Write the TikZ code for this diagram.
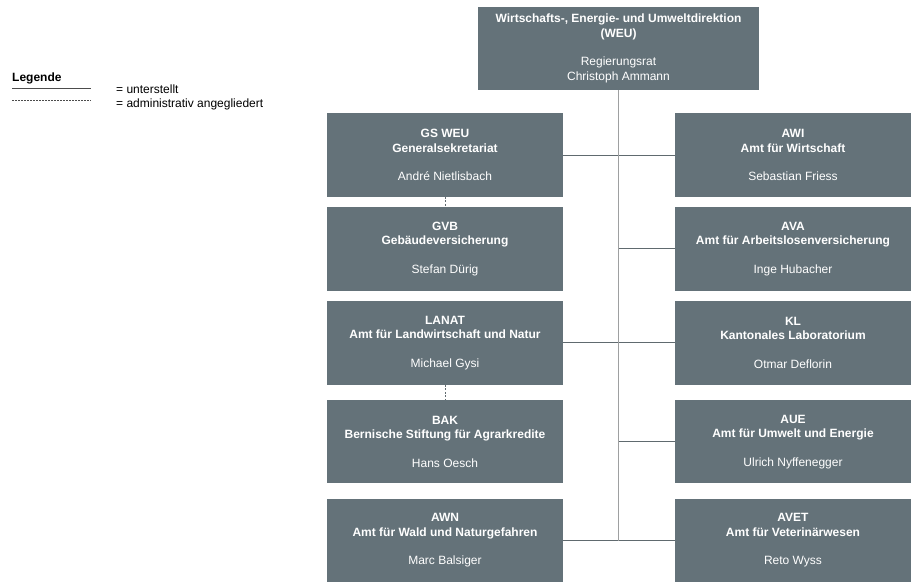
\documentclass[tikz,border=0pt]{standalone}
\usepackage{fontspec}
\setmainfont{Liberation Sans}
\usetikzlibrary{positioning}

\definecolor{boxgrey}{RGB}{100,114,121}
\definecolor{trunkgrey}{RGB}{158,160,161}
\definecolor{branchgrey}{RGB}{96,106,111}
\newcommand{\orgfont}{\fontsize{12}{14.5}\selectfont}

\tikzset{
  orgbox/.style={fill=boxgrey, text=white, minimum width=236pt, minimum height=83.5pt,
                 align=center, inner sep=0pt, font=\orgfont},
  topbox/.style={orgbox, minimum width=281pt, minimum height=83pt},
  trunk/.style={draw=trunkgrey, line width=1pt},
  branch/.style={draw=branchgrey, line width=1pt},
  adminline/.style={draw=branchgrey, dashed, dash pattern=on 2pt off 1.5pt, line width=0.6pt},
  legline/.style={draw=black!70, line width=0.6pt},
  legtext/.style={anchor=base west, inner sep=0pt, font=\orgfont}
}

\begin{document}
\begin{tikzpicture}[x=1pt, y=-1pt]
    \useasboundingbox (0,0) rectangle (916,587);

    % Direktion
    \node[topbox] (weu) at (618.5,48.5) {\textbf{Wirtschafts-, Energie- und Umweltdirektion}\\
        \textbf{(WEU)}\\[14pt] Regierungsrat\\ Christoph Ammann};

    % linke Spalte
    \node[orgbox] (gs) at (445,155) {\textbf{GS WEU}\\ \textbf{Generalsekretariat}\\[14pt] André Nietlisbach};
    \node[orgbox, below=10pt of gs] (gvb) {\textbf{GVB}\\ \textbf{Gebäudeversicherung}\\[14pt] Stefan Dürig};
    \node[orgbox, below=10pt of gvb] (lanat) {\textbf{LANAT}\\ \textbf{Amt für Landwirtschaft und Natur}\\[14pt] Michael Gysi};
    \node[orgbox, below=15pt of lanat] (bak) {\textbf{BAK}\\ \textbf{Bernische Stiftung für Agrarkredite}\\[14pt] Hans Oesch};
    \node[orgbox, below=15pt of bak] (awn) {\textbf{AWN}\\ \textbf{Amt für Wald und Naturgefahren}\\[14pt] Marc Balsiger};

    % rechte Spalte
    \node[orgbox] (awi) at (793,155) {\textbf{AWI}\\ \textbf{Amt für Wirtschaft}\\[14pt] Sebastian Friess};
    \node[orgbox, below=10pt of awi] (ava) {\textbf{AVA}\\ \textbf{Amt für Arbeitslosenversicherung}\\[14pt] Inge Hubacher};
    \node[orgbox, below=10pt of ava] (kl) {\textbf{KL}\\ \textbf{Kantonales Laboratorium}\\[14pt] Otmar Deflorin};
    \node[orgbox, below=15pt of kl] (aue) {\textbf{AUE}\\ \textbf{Amt für Umwelt und Energie}\\[14pt] Ulrich Nyffenegger};
    \node[orgbox, below=15pt of aue] (avet) {\textbf{AVET}\\ \textbf{Amt für Veterinärwesen}\\[14pt] Reto Wyss};

    % Verbindungen
    \draw[branch] (gs.east) -- (awi.west);
    \draw[branch] (weu.south |- ava.west) -- (ava.west);
    \draw[branch] (lanat.east) -- (kl.west);
    \draw[branch] (weu.south |- aue.west) -- (aue.west);
    \draw[branch] (awn.east) -- (avet.west);
    \draw[trunk] (weu.south) -- (weu.south |- awn.east);
    \draw[adminline] (gs.south) -- (gvb.north);
    \draw[adminline] (lanat.south) -- (bak.north);

    % Legende
    \node[legtext] (legende) at (12,81) {\textbf{Legende}};
    \coordinate (l1a) at (12,88);
    \coordinate (l1b) at (91,88);
    \coordinate (l2a) at (12,100.5);
    \coordinate (l2b) at (91,100.5);
    \draw[legline] (l1a) -- (l1b);
    \draw[legline, dashed, dash pattern=on 2pt off 1pt, line width=0.5pt] (l2a) -- (l2b);
    \node[legtext] (unterstellt) at (116,93) {= unterstellt};
    \node[legtext] (angegliedert) at (116,107) {= administrativ angegliedert};
\end{tikzpicture}
\end{document}
